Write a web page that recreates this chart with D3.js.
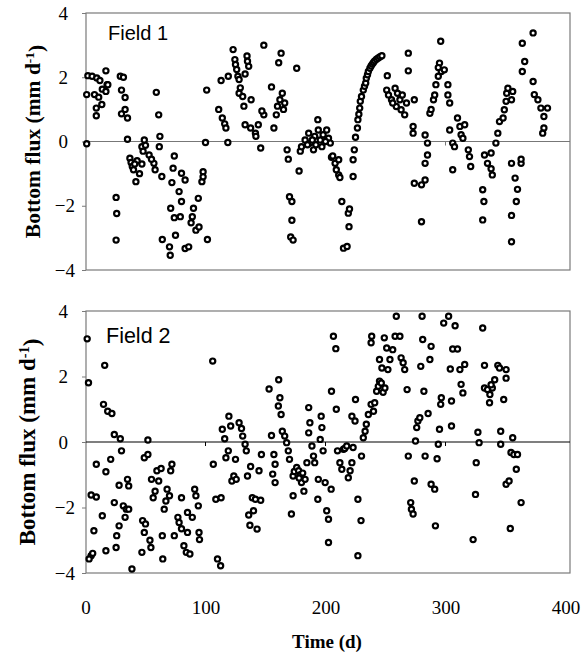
<!DOCTYPE html>
<html>
<head>
<meta charset="utf-8">
<title>Bottom flux</title>
<script src="https://cdn.jsdelivr.net/npm/d3@7"></script>
<style>
  body { margin: 0; background: #fff; }
  .serif { font-family: "Liberation Serif", "Times New Roman", Times, serif; }
  .sans { font-family: "Liberation Sans", Arial, Helvetica, sans-serif; }
</style>
</head>
<body>
<script>
// day of year, bottom flux (mm/d)
var field1 = [
  [1,-0.07],[2,2.05],[5.5,2.03],[9.4,1.98],[12,1.9],[17,2.2],[18,1.77],[14,1.63],
  [1,1.46],[7.5,1.46],[11,1.38],[13.6,1.15],[9,1.04],[9,0.8],[18.6,1.77],[17,1.56],
  [25.5,-1.74],[26,-2.24],[25.5,-3.07],
  [29,2.03],[31.6,2.0],[30,1.6],[33,1.37],[33,1.0],[30,0.86],[35,0.73],[35,0.07],
  [37,-0.52],[38,-0.65],[39,-0.78],[40,-0.88],[42,-1.25],[45,-1.0],[47,-0.7],[43,-0.6],[41,-0.7],
  [49,0.05],[47,-0.16],[50,-0.12],[48,-0.3],[53,-0.42],[57,-0.68],[58,-0.88],[63.6,-1.09],
  [59,1.53],[61,0.83],[62,0.16],[61.5,-0.16],[55,-0.55],
  [74,-0.45],[73,-0.83],[72,-1.28],[78,-1.56],[80,-0.99],[83,-1.2],[80,-1.87],[71,-2.08],
  [74,-2.37],[79,-2.34],[64,-3.05],[70,-3.28],[70.6,-3.54],[75,-2.92],[83,-3.33],[86,-3.28],
  [89,-2.34],[90,-2.08],[94,-1.77],[88,-2.53],[92,-2.76],[94.6,-2.66],[98,-0.94],[97,-1.25],
  [98,-1.1],[101.6,-3.05],[100,-0.03],[101,1.6],
  [111,1.0],[113,1.9],[114,0.73],[116,0.55],[117,0.42],[118.6,-0.03],[119,2.03],[123,2.86],
  [124.5,2.55],[125,2.4],[126,2.24],[127,2.03],[128,1.93],[129,1.67],[128,1.5],[131,1.4],
  [132,1.1],[134.6,2.66],[135,2.5],[136,2.34],[133,2.1],[138,1.3],[133,0.52],[137.6,0.42],
  [141.6,0.26],[142,0.16],[144,0.52],[146,-0.2],[148.6,3.0],[148.6,0.83],[147,0.95],
  [155,1.7],[157,0.42],[159,0.83],[160,1.1],[161,2.45],[163,2.75],[164,1.5],[166,1.2],
  [165,1.0],[162,1.3],[176,2.28],
  [168,-0.26],[169,-0.55],[170,-1.72],[172,-1.87],[172,-2.45],[171,-2.97],[173,-3.07],[178,-0.92],
  [179,-0.3],[180,-0.16],[183,0.05],[186,0.26],[187,-0.05],[190,-0.26],[191,0.16],[193.6,0.68],
  [194,0.36],[195.6,0.05],[197,-0.16],[198,0.21],[201,0.36],[202.5,0.1],[204,-0.05],[185,-0.1],
  [189,0.05],[192,-0.1],[200,0.0],
  [205,-0.49],[206,-0.45],[208,-0.68],[209,-0.88],[211,-1.04],[212,-1.12],[211,-0.57],
  [213.6,-1.87],[219,-2.23],[220,-2.1],[219.6,-2.65],[215,-3.32],[218,-3.27],
  [223,-1.09],[223,-0.57],[224,-0.26],[225,0.13],[226.6,0.42],[227,0.68],[227.8,0.85],
  [228.5,1.04],[229,1.25],[230,1.4],[231.5,1.6],[232.5,1.72],[233.5,1.82],[234,1.97],
  [235,2.08],[235.7,2.18],[237,2.28],[238,2.35],[239,2.41],[240,2.46],[241,2.51],
  [242.5,2.56],[244,2.6],[245.5,2.64],[247,2.67],
  [251.5,2.05],[251,1.6],[252.5,1.45],[255,1.3],[258,1.66],[259,1.09],[256,1.2],[262,1.3],
  [263,0.99],[266,0.83],[267.5,1.2],[269,2.75],[269,2.2],[273,0.47],[273,0.26],[274,1.3],
  [260,1.5],[264,1.45],
  [274,-1.3],[280,-1.35],[283,-1.2],[280,-2.5],[283,0.2],[285,-0.05],[285,-0.42],[283,-0.68],
  [287,0.88],[288,1.0],[290,1.3],[291,1.45],[292,1.77],[294,2.03],[295,2.44],[296,3.12],
  [296.5,2.18],[299,2.23],[302,1.77],[302,1.45],[303.5,1.2],[294,2.3],
  [303.5,0.36],[306,-0.05],[307.5,-0.16],[310,0.73],[312,0.47],[313,0.21],[314.5,0.1],
  [316,0.52],[319,-0.26],[320,-0.47],[321,-0.78],[306,-0.88],
  [331,-1.5],[332,-1.87],[331,-2.44],[332.5,-0.42],[335,-0.68],[338,-0.36],[339,-1.04],
  [338,-0.85],[342,-0.05],[343.6,0.26],[345,0.62],[348,0.73],[349,0.99],[350.5,1.25],
  [351,1.5],[352,1.66],[355,1.3],[356,1.56],
  [355,-0.68],[358,-1.14],[360,-1.49],[359,-1.87],[355,-2.3],[355,-3.12],[363,-0.68],[363,-0.55],
  [364,3.06],[373,3.38],[364,2.18],[366,2.49],[373,1.87],[374,1.46],[377,1.3],[379.5,1.04],
  [382,0.78],[385,1.04],[382,0.42],[381,0.26]
];

var field2 = [
  [1.4,3.15],[2.5,1.81],[4.7,-1.62],[9,-1.68],[7,-2.71],[4.7,-3.47],[6,-3.4],[3,-3.57],
  [9,-0.68],[16,2.34],[15,1.15],[18.5,0.94],[22,0.87],[24,0.23],[29,0.1],[21,-0.53],
  [17,-0.91],[14,-2.25],[17,-3.32],[25.5,-3.22],[24,-1.85],[26,-2.86],[28,-2.56],[30,-0.27],
  [28,-1.32],[35,-1.14],[36,-1.34],[31.5,-1.95],[33,-2.3],[34,-2.05],[36,-2.05],[38.7,-3.88],
  [47,-3.37],[47.6,-2.4],[49,-2.76],[50,-2.5],[53.7,-3.0],[54.5,-3.22],[52,0.06],[49,-0.48],
  [52,-0.38],[55,-1.14],[56.4,-1.7],[58,-1.5],[59.5,-0.88],[61,-1.19],[63,-0.81],[64,-2.86],
  [64.4,-3.57],[65.6,-2.05],[67,-1.8],[68,-1.44],[70,-1.64],[71,-0.88],[72,-0.68],[74,-2.86],
  [77,-2.3],[78,-2.46],[80,-1.7],[80,-2.65],[82,-3.17],[84,-3.37],[85,-2.76],[87,-3.42],
  [85,-2.15],[89,-2.3],[91,-1.44],[92,-1.64],[94,-1.95],[94.6,-2.76],[95,-2.98],
  [106,2.47],[106.5,-0.68],[108.6,-1.75],[113,-1.7],[110,-3.57],[112.6,-3.78],[114,0.39],
  [116,0.1],[117,-0.48],[119,-0.27],[119.5,0.79],[121,0.49],[122,-1.19],[123.6,-1.04],
  [125,-0.53],[125.6,-1.14],[128,0.59],[130,0.41],[131,0.18],[133,-0.07],[134,-0.27],
  [135,-1.04],[136,-2.23],[137,-2.54],[137.6,-0.75],[139,-1.7],[140,-2.1],[141.6,-1.75],
  [143,-2.66],[146,-1.78],[144.6,-0.88],[146.6,-0.38],[153,1.62],[155,0.2],[157,-0.38],
  [158,-0.68],[156,-0.98],[158,-1.24],[161,1.9],[162,1.35],[160.7,1.1],[163,0.84],[164,0.33],
  [166,0.18],[167.6,-0.02],[169,-0.27],[170,-0.53],[171.6,-2.2],[173,-1.04],[174,-0.9],
  [173,-1.64],
  [176,-0.78],[177.6,-0.88],[179,-1.0],[180,-1.24],[182,-1.5],[183,-1.14],[184.5,-0.63],
  [178,-1.1],[181,-0.95],
  [186,1.05],[187,0.59],[186,0.28],[188.7,-0.12],[190,-0.43],[191,-0.63],[193.6,-1.75],
  [194,-1.14],[195.6,0.08],[196.4,0.79],[197,0.44],[198,-0.27],[199.7,-1.24],[201,-2.1],
  [202.5,-2.36],[202.5,-3.07],[204.7,-1.44],[205,1.55],[206.6,3.23],[208.6,2.85],[209,1.0],
  [210,-0.27],[212,-0.63],[213.6,-0.83],[215,-0.22],[216,-0.2],[217.7,-0.12],[219,-1.09],
  [220.5,-0.88],[222,-0.63],[223,-0.17],[222,0.79],[224.6,0.64],[225,1.3],[227,-1.75],
  [227,-3.47],[229.6,-2.4],[230,-0.43],[231.5,0.13],[233,0.33],[234,0.54],[235.7,0.84],
  [238,1.15],[240,0.94],[241,1.2],[242.6,1.55],[244,1.7],[245,1.86],[246.5,1.8],[248,1.52],
  [249.5,1.65],[238.5,3.23],[238,3.03],[245,2.52],[247,2.26],[249,3.18],[251,2.87],[252,2.21],
  [253.7,2.52],[256,2.82],[258,3.23],[259,3.84],[262,3.23],[263,2.57],[264.7,2.42],[266,2.21],
  [268,1.6],[269,-0.43],[271,-1.85],[271.6,-2.05],[273,-2.2],[274,-1.19],[275,0.03],[276,0.44],
  [277,0.64],[278.6,0.74],[279.4,2.31],[280.5,3.84],[281,3.13],[282,1.55],[283,-0.43],
  [285.5,0.87],[287,2.52],[288,2.92],[288,-1.29],[291,-1.44],[291.6,-2.56],[293,-0.51],
  [294,-0.07],[295,0.39],[296,1.15],[296.5,1.35],[298.5,3.63],[302.6,3.84],[304,2.23],
  [305,0.49],[305,1.25],[306,2.84],[308,3.55],[310,2.84],[312,2.21],[313,1.76],[314.5,1.5],
  [316,2.37],[323,-2.98],[325,-1.6],[325.6,-0.63],[327,0.3],[328,-0.02],[331,3.48],
  [332.5,2.34],[332.5,1.65],[335,1.6],[336.7,1.2],[339,1.65],[341,1.9],[343.6,2.34],[345,2.26],
  [346,-0.07],[346,0.33],[348.5,1.3],[350.5,2.21],[350.5,1.95],[350.5,-1.29],[353,-1.19],
  [354,-2.64],[354.6,-0.32],[356,0.13],[357,-0.38],[359,-0.83],[360,-0.38],[363,-1.85],
  [337,1.45],[338,1.75]
];

var panelNames = ["Field 1", "Field 2"];
var yTicks = [-4, -2, 0, 2, 4];
var xTicks = [0, 100, 200, 300, 400];

var svg = d3.select("body").append("svg")
    .attr("width", 586)
    .attr("height", 670);

var x = d3.scaleLinear().domain([0, 400]).range([85.5, 565.5]);
var left = 86, right = 570;

var panels = [
  { name: panelNames[0], data: field1, top: 13, bottom: 270, zero: "#777", label: [108, 40, 20], title: [32, 21.5] },
  { name: panelNames[1], data: field2, top: 311, bottom: 573, zero: "#000", label: [106, 343, 21.5], title: [27, 23] }
];

panels.forEach(function (p) {
  var y = d3.scaleLinear().domain([-4, 4]).range([p.bottom, p.top]);
  var g = svg.append("g");

  // frame
  g.append("rect")
      .attr("x", left).attr("y", p.top)
      .attr("width", right - left).attr("height", p.bottom - p.top)
      .attr("fill", "none").attr("stroke", "#7a7a7a").attr("stroke-width", 1.2);

  // zero line + little day ticks on it
  g.append("line")
      .attr("x1", left).attr("x2", right)
      .attr("y1", y(0)).attr("y2", y(0))
      .attr("stroke", p.zero).attr("stroke-width", 1.2);
  g.selectAll(".zt").data(xTicks.slice(1, 4)).join("line")
      .attr("x1", d => x(d)).attr("x2", d => x(d))
      .attr("y1", y(0)).attr("y2", y(0) + 4)
      .attr("stroke", p.zero);

  var yAxis = g.append("g")
      .attr("transform", "translate(" + left + ",0)")
      .call(d3.axisLeft(y).tickValues(yTicks).tickSize(4).tickFormat(d3.format("d")));
  yAxis.attr("font-family", null).attr("font-size", null);
  yAxis.select(".domain").remove();
  yAxis.selectAll("line").attr("stroke", "#7a7a7a");
  yAxis.selectAll("text")
      .attr("class", "serif")
      .attr("x", d => d < 0 ? -11 : -18)
      .attr("font-size", 19);

  g.append("g").selectAll("circle").data(p.data).join("circle")
      .attr("cx", d => x(d[0]))
      .attr("cy", d => y(d[1]))
      .attr("r", 2.6)
      .attr("fill", "#fff")
      .attr("stroke", "#000")
      .attr("stroke-width", 2.2);

  g.append("text")
      .attr("class", "sans")
      .attr("x", p.label[0]).attr("y", p.label[1])
      .attr("font-size", p.label[2])
      .text(p.name);

  var t = g.append("text")
      .attr("class", "serif")
      .attr("transform", "translate(" + p.title[0] + "," + ((p.top + p.bottom) / 2) + ") rotate(-90)")
      .attr("text-anchor", "middle")
      .attr("dy", "0.35em")
      .attr("font-weight", "bold")
      .attr("font-size", p.title[1]);
  t.append("tspan").text("Bottom flux (mm d");
  t.append("tspan").attr("dy", "-0.45em").attr("font-size", "0.62em").text("-1");
  t.append("tspan").attr("dy", "0.45em").text(")");
});

// shared time axis under the lower panel
var xAxis = svg.append("g")
    .attr("transform", "translate(0,573)")
    .call(d3.axisBottom(x).tickValues(xTicks).tickSize(0).tickPadding(28));
xAxis.attr("font-family", null).attr("font-size", null);
xAxis.select(".domain").remove();
xAxis.selectAll("text")
    .attr("class", "serif")
    .attr("font-size", 19);

svg.append("text")
    .attr("class", "serif")
    .attr("x", 327).attr("y", 648)
    .attr("text-anchor", "middle")
    .attr("font-weight", "bold")
    .attr("font-size", 19)
    .text("Time (d)");
</script>
</body>
</html>
